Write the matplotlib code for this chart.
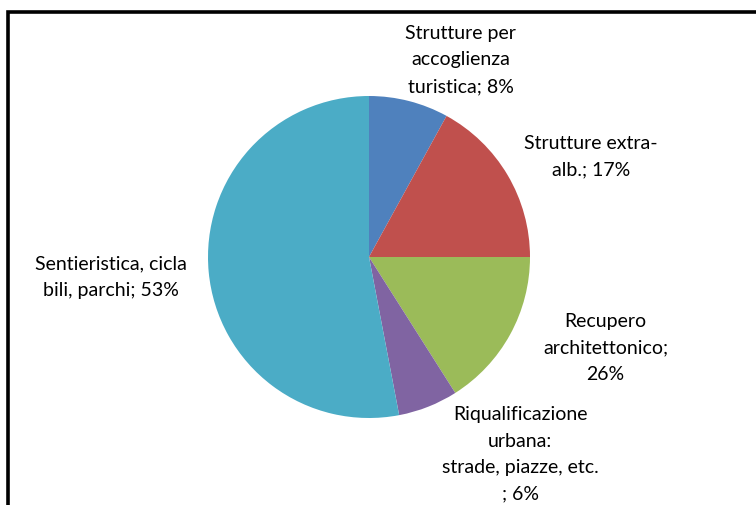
import matplotlib.pyplot as plt
from matplotlib.patches import Rectangle

# slice sizes as drawn (the printed labels don't all match the slices)
shares = [8, 17, 16, 6, 53]
labels = [
    "Strutture per\naccoglienza\nturistica; 8%",
    "Strutture extra-\nalb.; 17%",
    "Recupero\narchitettonico;\n26%",
    "Riqualificazione\nurbana:\nstrade, piazze, etc.\n; 6%",
    "Sentieristica, cicla\nbili, parchi; 53%",
]
colors = ["#4F81BD", "#C0504D", "#9BBB59", "#8064A2", "#4BACC6"]
# label anchor points, in pie radius units
label_pos = [(0.57, 1.23), (1.38, 0.63), (1.47, -0.56), (0.94, -1.22), (-1.60, -0.12)]

W, H = 756, 506
fig = plt.figure(figsize=(W / 100, H / 100), dpi=100)

# chart frame, cut off at right and bottom
fig.patches.append(Rectangle((8 / W, -0.2), 1.2, 1.2 - 13 / H,
                             transform=fig.transFigure, fill=False,
                             lw=2.6, ec="black"))

ax = fig.add_axes([208 / W, 87 / H, 322 / W, 322 / H])
ax.pie(shares, colors=colors, startangle=90, counterclock=False,
       radius=1, wedgeprops=dict(linewidth=0))
ax.set_xlim(-1, 1)
ax.set_ylim(-1, 1)
ax.set_aspect("equal")
ax.axis("off")

for txt, (x, y) in zip(labels, label_pos):
    ax.text(x, y, txt, ha="center", va="center", fontsize=14,
            family=["Lato", "DejaVu Sans"], linespacing=1.68, clip_on=False)

fig.savefig("out.png", dpi=100)
